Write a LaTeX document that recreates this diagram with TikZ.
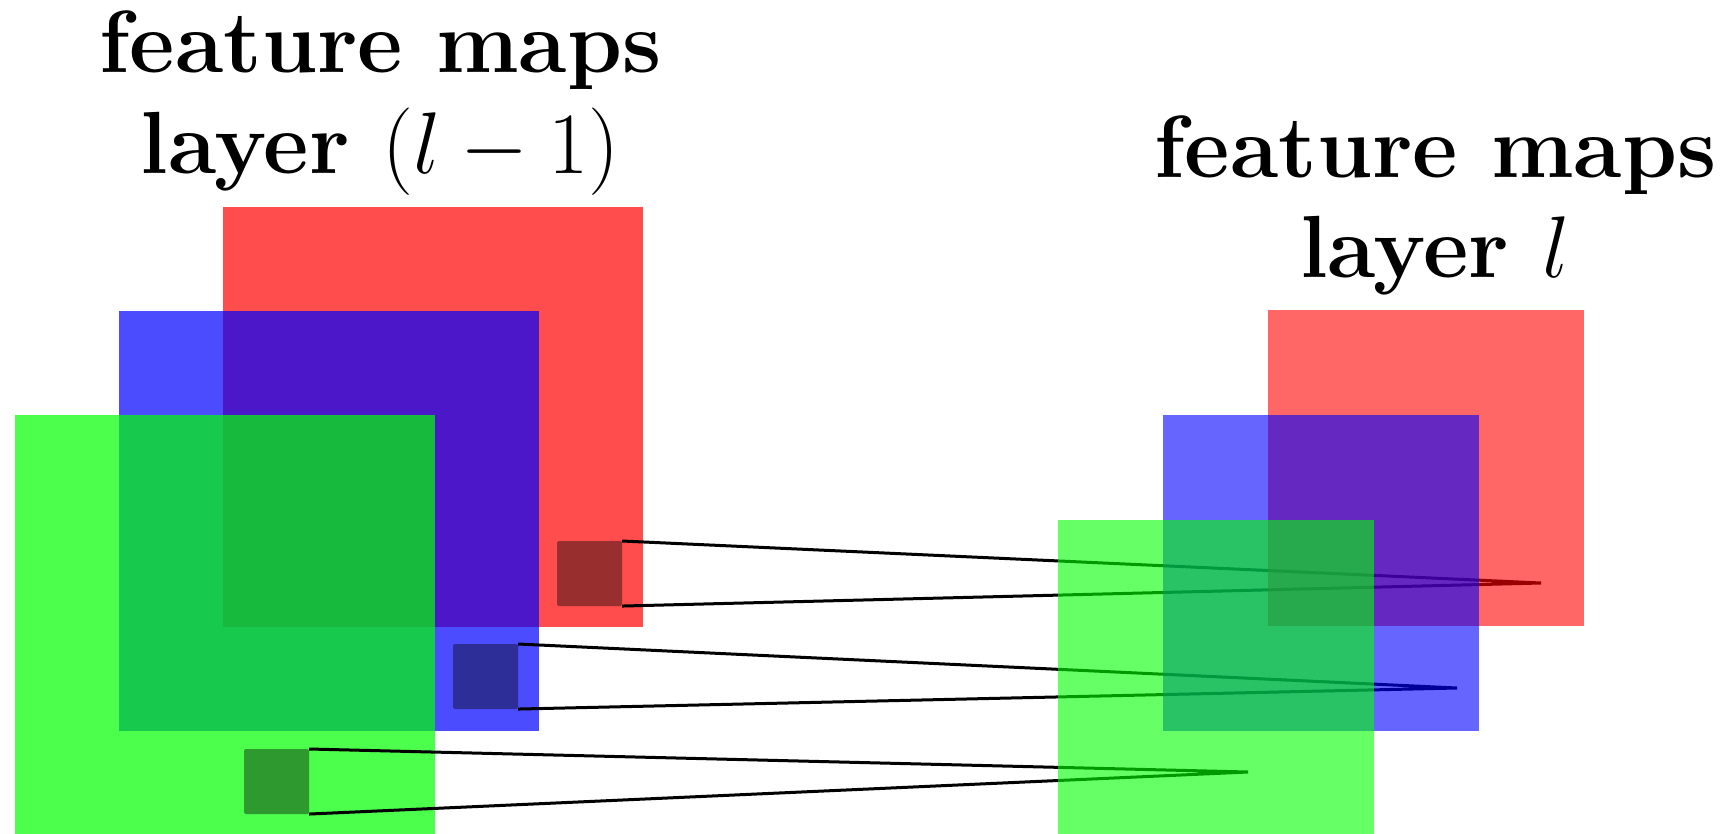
\documentclass[tikz,border=0pt]{standalone}
\begin{document}
\begin{tikzpicture}[x=0.01cm,y=-0.01cm,
  bigmap/.style={fill=#1, fill opacity=0.7, draw=none, minimum size=4.2cm,
    inner sep=0pt, outer sep=0pt, anchor=north west},
  smallmap/.style={fill=#1, fill opacity=0.6, draw=none, minimum size=3.16cm,
    inner sep=0pt, outer sep=0pt, anchor=north west},
  patch/.style={fill=black, fill opacity=0.4, draw=none, rounded corners=0.02cm,
    minimum size=0.65cm, inner sep=0pt, outer sep=0pt, anchor=north west},
  link/.style={draw=black, line width=0.03cm, line join=miter},
  title/.style={font=\fontsize{25.1pt}{29.6pt}\selectfont\bfseries,
    anchor=base, inner sep=0pt}]
\useasboundingbox (0,0) rectangle (1724,833);
\clip (0,0) rectangle (1724,833);

% feature maps of layer l-1
\node[bigmap=red]   (Lr) at (223,207) {};
\node[bigmap=blue]  (Lb) at (119,311) {};
\node[bigmap=green] (Lg) at (15,415) {};

% receptive-field patches
\node[patch] (pr) at (557,541) {};
\node[patch] (pb) at (453,644) {};
\node[patch] (pg) at (244,749) {};

% target units in layer l
\coordinate (tr) at (1541,583);
\coordinate (tb) at (1457,688);
\coordinate (tg) at (1248,772);

% connections from patches to units
\draw[link] (pr.north east) -- (tr) -- (pr.south east);
\draw[link] (pb.north east) -- (tb) -- (pb.south east);
\draw[link] (pg.north east) -- (tg) -- (pg.south east);

% feature maps of layer l
\node[smallmap=red]   (Rr) at (1268,310) {};
\node[smallmap=blue]  (Rb) at (1163,415) {};
\node[smallmap=green] (Rg) at (1058,520) {};

% titles
\node[title] (tl1) at (380.5,72)  {feature maps};
\node[title] (tl2) at (380,173)   {layer $(l-1)$};
\node[title] (tr1) at (1435.5,177) {feature maps};
\node[title] (tr2) at (1435,277)  {layer $l$};
\end{tikzpicture}
\end{document}
